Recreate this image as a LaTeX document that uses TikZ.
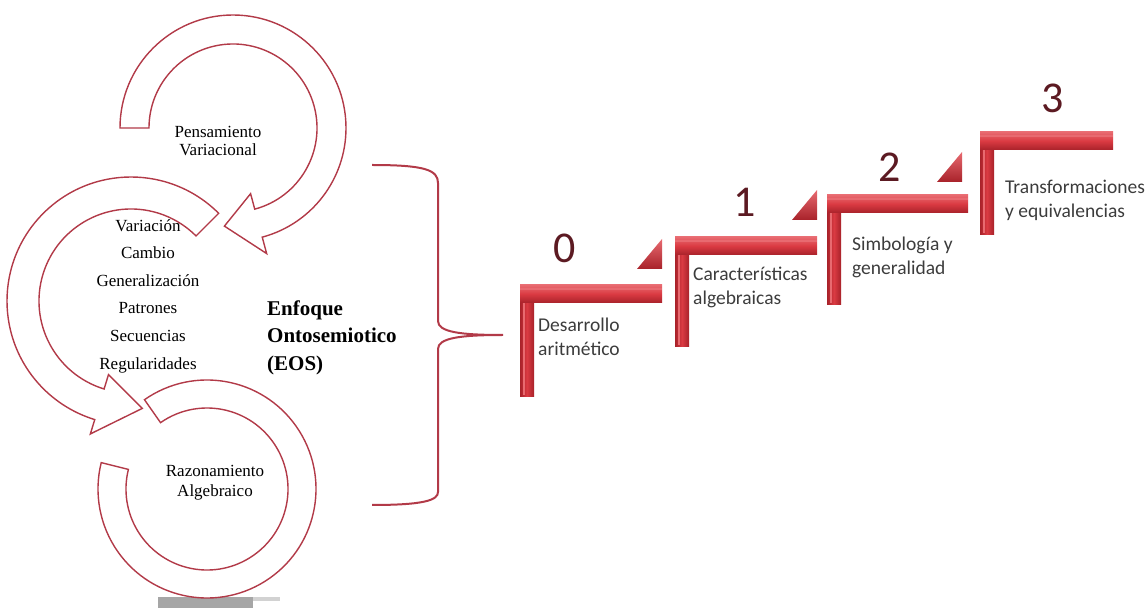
\documentclass[tikz,border=0pt]{standalone}
\usepackage{fontspec}
\setmainfont{Liberation Serif}
\newfontfamily\calibri{Carlito}
\usetikzlibrary{positioning}

\definecolor{ringred}{HTML}{B23A48}
\definecolor{barmid}{HTML}{DA3A42}
\definecolor{barlight}{HTML}{E86A70}
\definecolor{bardark}{HTML}{A8222A}
\definecolor{digitred}{HTML}{5C1A22}
\definecolor{labelgray}{HTML}{3C3C3C}

\begin{document}
\begin{tikzpicture}[x=1pt,y=1pt,
    ring/.style={draw=ringred,line width=1.4pt,fill=white,line join=miter},
    brace/.style={draw=ringred,line width=2pt},
    concept/.style={align=center,inner sep=0pt,font=\fontsize{17}{18}\selectfont},
    eos/.style={align=left,inner sep=0pt,anchor=west,font=\fontsize{21}{27.5}\selectfont\bfseries},
    digit/.style={inner sep=0pt,text=digitred,font=\calibri\fontsize{44}{44}\selectfont},
    steplabel/.style={align=left,inner sep=0pt,anchor=north west,text=labelgray,
        font=\calibri\fontsize{19.5}{24}\selectfont}
]
\useasboundingbox (0,0) rectangle (1146,608);

% grey scrap at the bottom
\fill[gray!70] (158,0) rectangle (253,11);
\fill[gray!35] (253,7) rectangle (280,11);

% cycle of curved arrows
\draw[ring,shift={(207,119)}] (125:109) arc[start angle=125,end angle=-194,radius=109]
    -- (-194:81) arc[start angle=-194,end angle=125,radius=81] -- cycle;
\draw[ring,shift={(131,307)}] (45:124) arc[start angle=45,end angle=253,radius=124]
    -- (253:139) -- (276:108) -- (253:77) -- (253:92)
    arc[start angle=253,end angle=45,radius=92] -- cycle;
\draw[ring,shift={(233,480)}] (180:113) arc[start angle=180,end angle=-75,radius=113]
    -- (-75:130) -- (-95:98.5) -- (-75:68) -- (-75:84)
    arc[start angle=-75,end angle=180,radius=84] -- cycle;

% texts of the cycle
\node[concept] (pens) at (218,467) {Pensamiento\\Variacional};
\node[concept,font=\fontsize{17}{27.6}\selectfont] (list) at (148,312)
    {Variación\\Cambio\\Generalización\\Patrones\\Secuencias\\Regularidades};
\node[concept,font=\fontsize{17}{20}\selectfont] (razo) at (215,125) {Razonamiento\\Algebraico};
\node[eos] (eos) at (267,270.5) {Enfoque\\Ontosemiotico\\(EOS)};

% brace
\draw[brace] (372,443) .. controls (425,443) and (438,438) .. (438,425) -- (438,287)
    .. controls (438,276) and (460,273) .. (503,273)
    .. controls (460,273) and (438,270) .. (438,259) -- (438,116)
    .. controls (438,108) and (425,103) .. (372,103);

% steps
\foreach \bx/\by/\bl/\bh in {520/323/142/112, 675/371/142/110, 827/413/141/110, 980/476/133/103}{
    \shade[left color=bardark,right color=bardark,middle color=barmid] (\bx,\by) rectangle ++(14,-\bh);
    \fill[barlight] (\bx+3,\by-18) rectangle ++(2,-\bh+20);
    \shade[top color=barlight,bottom color=bardark,middle color=barmid] (\bx,\by) rectangle ++(\bl,-18);
    \fill[barlight] (\bx,\by-3) rectangle ++(\bl,-2);
}
\foreach \tx/\ty in {662/339, 817/388, 962/426}
    \shade[top color=barlight,bottom color=bardark] (\tx,\ty) -- ++(-25,0) -- ++(25,30) -- cycle;

\node[digit] (d0) at (565,360) {0};
\node[digit] (d1) at (745,406) {1};
\node[digit] (d2) at (890,441) {2};
\node[digit] (d3) at (1053,510) {3};

\node[steplabel] (s0) at (538,290.5) {Desarrollo\\aritmético};
\node[steplabel] (s1) at (693,341) {Características\\algebraicas};
\node[steplabel] (s2) at (852,371) {Simbología y\\generalidad};
\node[steplabel] (s3) at (1005,428) {Transformaciones\\y equivalencias};

\end{tikzpicture}
\end{document}
